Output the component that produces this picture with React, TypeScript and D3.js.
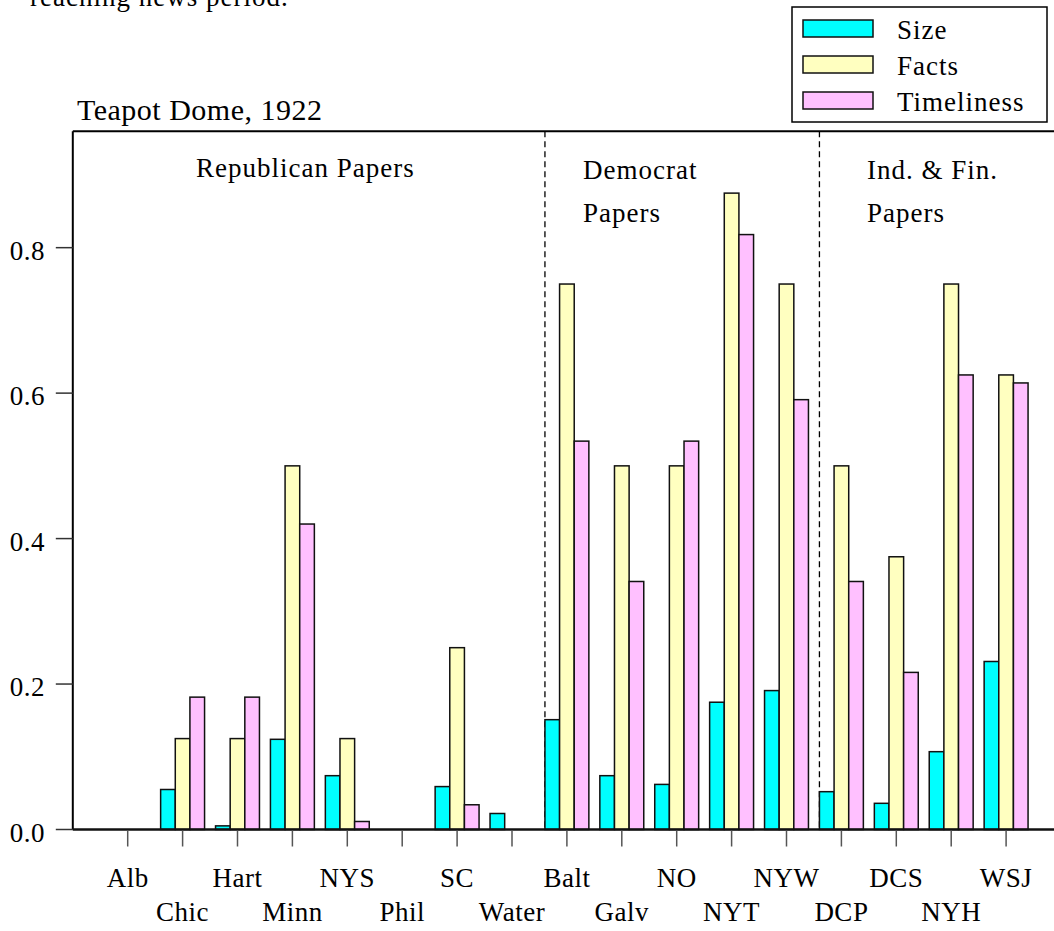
import React, { FC } from 'react';
import * as d3 from 'd3';

/* Papers along the x axis, in drawing order */
const papers: string[] = [
  'Alb', 'Chic', 'Hart', 'Minn', 'NYS', 'Phil', 'SC', 'Water',
  'Balt', 'Galv', 'NO', 'NYT', 'NYW', 'DCP', 'DCS', 'NYH', 'WSJ',
];

const sizeValues: number[] = [
  0, 0.055, 0.005, 0.124, 0.074, 0, 0.059, 0.022,
  0.151, 0.074, 0.062, 0.175, 0.191, 0.052, 0.036, 0.107, 0.231,
];
const factsValues: number[] = [
  0, 0.125, 0.125, 0.5, 0.125, 0, 0.25, 0,
  0.75, 0.5, 0.5, 0.875, 0.75, 0.5, 0.375, 0.75, 0.625,
];
const timelinessValues: number[] = [
  0, 0.182, 0.182, 0.42, 0.011, 0, 0.034, 0,
  0.534, 0.341, 0.534, 0.818, 0.591, 0.341, 0.216, 0.625, 0.614,
];

const seriesNames: string[] = ['Size', 'Facts', 'Timeliness'];
const seriesColors: string[] = ['#00ffff', '#ffffc0', '#ffc0ff'];
const seriesValues: number[][] = [sizeValues, factsValues, timelinessValues];

const yTicks: number[] = [0, 0.2, 0.4, 0.6, 0.8];
/* a dashed divider stands before the group of each of these papers */
const dividerBefore: string[] = ['Balt', 'DCP'];

const FONT = '"Liberation Serif", "Times New Roman", serif';

const App: FC = () => {
  const width = 1054;
  const height = 931;
  const axisX = 72.8;
  const step = 54.9;
  const baseY = 829.5;
  const topY = 131.3;

  const x = d3
    .scaleLinear()
    .domain([-1, papers.length])
    .range([axisX, axisX + step * (papers.length + 1)]);
  const groupW = step * 0.8;
  const inner = d3
    .scaleBand()
    .domain(seriesNames)
    .range([-groupW / 2, groupW / 2]);
  const y = d3.scaleLinear().domain([0, 0.96]).range([baseY, topY]);
  const fmt = d3.format('.1f');

  return (
    <svg
      width={width}
      height={height}
      style={{ position: 'absolute', left: 0, top: 0, display: 'block', background: '#fff' }}
      fontFamily={FONT}
    >
      {/* cut-off line of the page text above the figure */}
      <text x={30} y={6} fontSize={27} letterSpacing={1} fill="#000">
        reaching news period.
      </text>

      <text x={77} y={120} fontSize={30} letterSpacing={0.5} fill="#000">
        Teapot Dome, 1922
      </text>

      {/* frame */}
      <line x1={axisX} x2={width} y1={topY} y2={topY} stroke="#000" strokeWidth={2} />
      <line x1={axisX} x2={axisX} y1={topY} y2={baseY} stroke="#000" strokeWidth={2} />

      {/* y axis */}
      <g id="y-axis">
        {yTicks.map((t) => (
          <g key={t}>
            <line x1={axisX - 17} x2={axisX} y1={y(t)} y2={y(t)} stroke="#333" strokeWidth={1.5} />
            <text x={45} y={y(t) + 12} fontSize={27} textAnchor="end" letterSpacing={0.5}>
              {fmt(t)}
            </text>
          </g>
        ))}
      </g>

      {/* dividers between party groups */}
      {dividerBefore.map((p) => {
        const dx = x(papers.indexOf(p)) - groupW / 2;
        return (
          <line
            key={p}
            x1={dx}
            x2={dx}
            y1={topY}
            y2={baseY}
            stroke="#000"
            strokeWidth={1.3}
            strokeDasharray="6,4"
          />
        );
      })}

      {/* group labels */}
      <g fontSize={27} letterSpacing={1}>
        <text x={196} y={177}>Republican Papers</text>
        <text x={583} y={179}>Democrat</text>
        <text x={583} y={222}>Papers</text>
        <text x={867} y={179}>Ind. &amp; Fin.</text>
        <text x={867} y={222}>Papers</text>
      </g>

      {/* bars */}
      <g id="bars">
        {papers.map((p, i) => (
          <g key={p} transform={`translate(${x(i)},0)`}>
            {seriesNames.map((s, k) => {
              const v = seriesValues[k][i];
              return (
                <rect
                  key={s}
                  x={inner(s) as number}
                  y={y(v)}
                  width={inner.bandwidth()}
                  height={baseY - y(v)}
                  fill={seriesColors[k]}
                  stroke="#111"
                  strokeWidth={1.5}
                />
              );
            })}
          </g>
        ))}
      </g>

      {/* baseline */}
      <line x1={axisX} x2={width} y1={baseY} y2={baseY} stroke="#111" strokeWidth={2.5} />

      {/* x axis ticks and staggered labels */}
      <g id="x-axis">
        {papers.map((p, i) => (
          <g key={p}>
            <line
              x1={x(i)}
              x2={x(i)}
              y1={baseY + 1}
              y2={baseY + 17}
              stroke="#555"
              strokeWidth={1.5}
            />
            <text
              x={x(i)}
              y={i % 2 === 0 ? 887 : 921}
              fontSize={27}
              textAnchor="middle"
              letterSpacing={0.5}
            >
              {p}
            </text>
          </g>
        ))}
      </g>

      {/* legend */}
      <g id="legend">
        <rect x={792} y={7} width={255} height={115} fill="#fff" stroke="#000" strokeWidth={1.5} />
        {seriesNames.map((s, k) => (
          <g key={s} transform={`translate(0,${k * 36})`}>
            <rect x={803} y={20} width={70} height={17} fill={seriesColors[k]} stroke="#111" strokeWidth={1.5} />
            <text x={897} y={39} fontSize={27} letterSpacing={1}>
              {s}
            </text>
          </g>
        ))}
      </g>
    </svg>
  );
};

export default App;
